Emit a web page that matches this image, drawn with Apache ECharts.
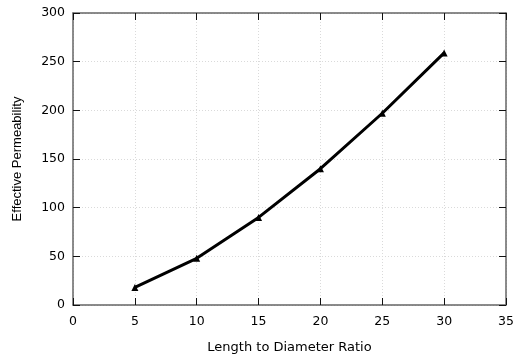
<!DOCTYPE html>
<html><head><meta charset="utf-8">
<script src="https://cdn.jsdelivr.net/npm/echarts@6/dist/echarts.min.js"></script>
<style>html,body{margin:0;padding:0;background:#fff}#c{width:513px;height:358px}</style>
</head><body><div id="c"></div>
<script>
const ratios = [5, 10, 15, 20, 25, 30];
const permeability = [18, 48, 90, 140, 197, 259];
const xTitle = 'Length to Diameter Ratio';
const yTitle = 'Effective Permeability';

const font = 'DejaVu Sans';
const axisCommon = {
  axisLine: {show: true, onZero: false, lineStyle: {color: '#666', width: 1.5}},
  axisTick: {show: true, inside: true, length: 7, lineStyle: {color: '#111', width: 1}},
};
const gridLine = {show: true, lineStyle: {color: '#dadada', type: [1, 2], width: 1}};
const chart = echarts.init(document.getElementById('c'));
chart.setOption({
  animation: false,
  grid: {left: 73, right: 7, top: 13, bottom: 53, containLabel: false, outerBoundsMode: 'none'},
  xAxis: [{
    type: 'value', min: 0, max: 35, interval: 5, position: 'bottom',
    name: xTitle, nameLocation: 'middle', nameGap: 36,
    nameTextStyle: {fontFamily: font, fontSize: 13, color: '#000'},
    axisLabel: {fontFamily: font, fontSize: 12.5, color: '#000', margin: 10},
    splitLine: gridLine,
    ...axisCommon
  }, {
    type: 'value', min: 0, max: 35, interval: 5, position: 'top',
    axisLabel: {show: false}, splitLine: {show: false},
    ...axisCommon
  }],
  yAxis: [{
    type: 'value', min: 0, max: 300, interval: 50, position: 'left',
    name: yTitle, nameLocation: 'middle', nameGap: 49,
    nameTextStyle: {fontFamily: 'Liberation Sans', fontSize: 13, color: '#000'},
    axisLabel: {fontFamily: font, fontSize: 12.5, color: '#000', margin: 8},
    splitLine: gridLine,
    ...axisCommon
  }, {
    type: 'value', min: 0, max: 300, interval: 50, position: 'right',
    axisLabel: {show: false}, splitLine: {show: false},
    ...axisCommon
  }],
  series: [{
    type: 'line',
    data: ratios.map((r, i) => [r, permeability[i]]),
    lineStyle: {color: '#000', width: 3},
    itemStyle: {color: '#000'},
    symbol: 'triangle', symbolSize: 7,
    showSymbol: true
  }]
});
</script></body></html>
